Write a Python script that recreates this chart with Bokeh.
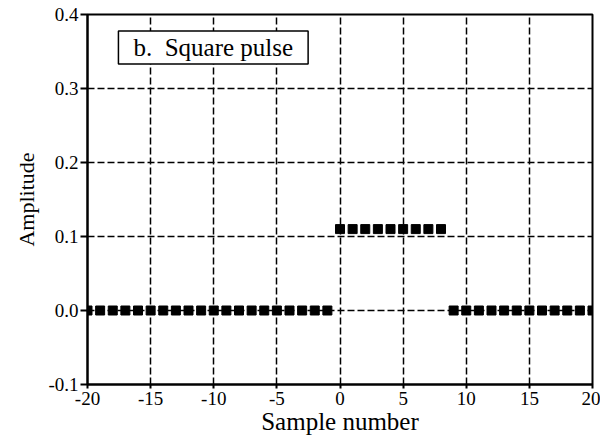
from bokeh.plotting import figure
from bokeh.models import FixedTicker, Label, Range1d
from bokeh.embed import file_html
from bokeh.resources import INLINE

sample_number = list(range(-20, 21))
amplitude = [0.0] * 20 + [0.11] * 9 + [0.0] * 12
x_ticks = [-20, -15, -10, -5, 0, 5, 10, 15, 20]
x_tick_labels = {-20: "-20", -15: "-15", -10: "-10", -5: "-5", 0: "0", 5: "5", 10: "10", 15: "15", 20: "20"}
y_ticks = [-0.1, 0.0, 0.1, 0.2, 0.3, 0.4]
y_tick_labels = {-0.1: "-0.1", 0.0: "0.0", 0.1: "0.1", 0.2: "0.2", 0.3: "0.3", 0.4: "0.4"}
title_text = "b.\u00a0 Square pulse"

FONT = "Liberation Serif"

p = figure(width=600, height=440, output_backend="svg", toolbar_location=None,
           x_range=Range1d(-20, 20), y_range=Range1d(-0.1, 0.4),
           min_border_left=87, min_border_right=8, min_border_top=14, min_border_bottom=56)

p.outline_line_color = "black"
p.outline_line_width = 2
p.background_fill_color = "white"
p.border_fill_color = "white"

for ax in (p.xaxis[0], p.yaxis[0]):
    ax.axis_line_color = "black"
    ax.axis_line_width = 2
    ax.major_tick_line_color = "black"
    ax.major_tick_line_width = 2
    ax.minor_tick_line_color = None
    ax.major_label_text_font = FONT
    ax.major_label_text_font_size = "19px"
    ax.major_label_text_color = "black"
    ax.axis_label_text_font = FONT
    ax.axis_label_text_font_style = "normal"
    ax.axis_label_text_color = "black"

p.xaxis.axis_label_text_font_size = "25px"
p.yaxis.axis_label_text_font_size = "22px"
p.xaxis.ticker = FixedTicker(ticks=x_ticks)
p.yaxis.ticker = FixedTicker(ticks=y_ticks)
p.xaxis.major_label_overrides = x_tick_labels
p.yaxis.major_label_overrides = y_tick_labels
p.xaxis.major_tick_out = 4
p.xaxis.major_tick_in = 0
p.yaxis.major_tick_out = 7
p.yaxis.major_tick_in = 0
p.xaxis.major_label_standoff = 3
p.yaxis.major_label_standoff = 2
p.xaxis.axis_label = "Sample number"
p.yaxis.axis_label = "Amplitude"
p.xaxis.axis_label_standoff = 0
p.yaxis.axis_label_standoff = 6

for g in (p.xgrid[0], p.ygrid[0]):
    g.grid_line_color = "black"
    g.grid_line_width = 1.5
    g.grid_line_dash = "7 3"
    g.grid_line_alpha = 1.0

p.scatter(sample_number, amplitude, marker="square", size=9,
          fill_color="black", line_color="black")

lbl = Label(x=-17.55, y=0.333, text=title_text, text_font=FONT,
            text_font_size="25px", text_color="black",
            border_line_color="black", border_line_width=1.5,
            background_fill_color="white", padding=(15, 3))
p.add_layout(lbl)

open("out.html", "w").write(file_html(p, INLINE))
